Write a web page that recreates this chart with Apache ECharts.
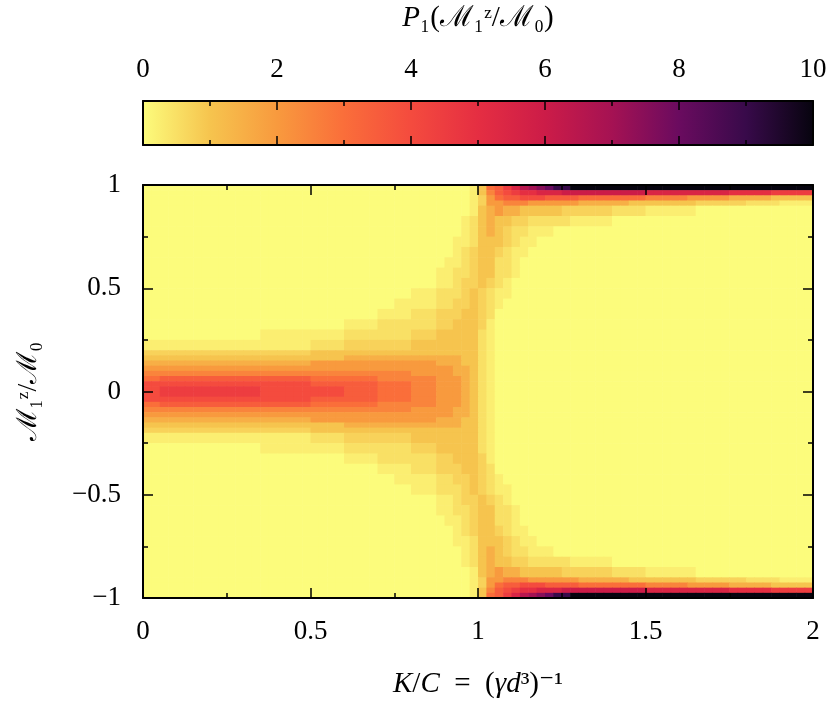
<!DOCTYPE html>
<html>
<head>
<meta charset="utf-8">
<script src="https://cdn.jsdelivr.net/npm/echarts@6/dist/echarts.min.js"></script>
<style>
html, body { margin: 0; padding: 0; background: #fff; }
#chart { width: 831px; height: 703px; }
</style>
</head>
<body>
<div id="chart"></div>
<script>
// colour palette of the colour bar, value 0 .. 10
var palette = ['#fcfc7c', '#f6c44e', '#f89a3e', '#fa6e3a', '#f44b3e', '#e52e42',
               '#cc1c48', '#a51253', '#6a0b5f', '#380a4a', '#07040f'];

// one letter per cell, looked up in levelValues
var levelCodes = 'abcdefghijklmnopqrstu';
var levelValues = [0, 0.25, 0.5, 0.75, 1, 1.5, 2, 2.5, 3, 3.5, 4, 4.5, 5, 5.5, 6, 6.5, 7, 7.5, 8, 9, 10];

// x bins of K/C: 80 columns of 0.025 (each group of 10 letters = 0.25)
var xFirst = 0;
var xBin = 0.025;

// row edges of M1z/M0, top to bottom
var yEdges = [1, 0.975, 0.95, 0.925, 0.9, 0.85, 0.8, 0.75, 0.7, 0.65, 0.6, 0.55, 0.5,
              0.45, 0.4, 0.35, 0.3, 0.25, 0.2, 0.175, 0.15, 0.125, 0.1, 0.075, 0.05, 0.025, 0,
              -0.025, -0.05, -0.075, -0.1, -0.125, -0.15, -0.175, -0.2, -0.25, -0.3, -0.35,
              -0.4, -0.45, -0.5, -0.55, -0.6, -0.65, -0.7, -0.75, -0.8, -0.85, -0.9,
              -0.925, -0.95, -0.975, -1];

// P1, one string per row (top to bottom)
var rows = [
  'aaaaaaaaaa aaaaaaaaaa aaaaaaaaaa aaaaaaaaab eijlnpqrst tuuuuuuuuu uuuuuuuuuu uuuuuuuuuu',
  'aaaaaaaaaa aaaaaaaaaa aaaaaaaaaa aaaaaaaaab ehjklmmnnn oooooooooo nnnnnnnnnn mmmmmlllll',
  'aaaaaaaaaa aaaaaaaaaa aaaaaaaaaa aaaaaaaaab dgijjkkkjj jjiiiiiiii hhhhhggggg fffffeeeee',
  'aaaaaaaaaa aaaaaaaaaa aaaaaaaaaa aaaaaaaaab dgghhhgggg ggffffffee eeeeeedddd ddccccbbbb',
  'aaaaaaaaaa aaaaaaaaaa aaaaaaaaaa aaaaaaaaab efgffeeeee ddddddcccc bbbbbbaaaa aaaaaaaaaa',
  'aaaaaaaaaa aaaaaaaaaa aaaaaaaaaa aaaaaaaabc efeeddcccc cbbbbbaaaa aaaaaaaaaa aaaaaaaaaa',
  'aaaaaaaaaa aaaaaaaaaa aaaaaaaaaa aaaaaaaabc efedccbbba aaaaaaaaaa aaaaaaaaaa aaaaaaaaaa',
  'aaaaaaaaaa aaaaaaaaaa aaaaaaaaaa aaaaaaabbc eeedcbbaaa aaaaaaaaaa aaaaaaaaaa aaaaaaaaaa',
  'aaaaaaaaaa aaaaaaaaaa aaaaaaaaaa aaaaaaabcd eedcbbaaaa aaaaaaaaaa aaaaaaaaaa aaaaaaaaaa',
  'aaaaaaaaaa aaaaaaaaaa aaaaaaaaaa aaaaaabbcd eeccbaaaaa aaaaaaaaaa aaaaaaaaaa aaaaaaaaaa',
  'aaaaaaaaaa aaaaaaaaaa aaaaaaaaaa aaaaabbccd eeccbaaaaa aaaaaaaaaa aaaaaaaaaa aaaaaaaaaa',
  'aaaaaaaaaa aaaaaaaaaa aaaaaaaaaa aaaaabbcdd edcbaaaaaa aaaaaaaaaa aaaaaaaaaa aaaaaaaaaa',
  'aaaaaaaaaa aaaaaaaaaa aaaaaaaaaa aabbbcccde dcbbaaaaaa aaaaaaaaaa aaaaaaaaaa aaaaaaaaaa',
  'aaaaaaaaaa aaaaaaaaaa aaaaaaaaaa bbbbbccdde dcbaaaaaaa aaaaaaaaaa aaaaaaaaaa aaaaaaaaaa',
  'aaaaaaaaaa aaaaaaaaaa aaaaaaaabb bbcccdddee dcaaaaaaaa aaaaaaaaaa aaaaaaaaaa aaaaaaaaaa',
  'aaaaaaaaaa aaaaaaaaaa aaaabbbbcc cccccddeee dbaaaaaaaa aaaaaaaaaa aaaaaaaaaa aaaaaaaaaa',
  'aaaaaaaaaa aaaabbbbbb bbbbcccccc ccdddeeeee cbaaaaaaaa aaaaaaaaaa aaaaaaaaaa aaaaaaaaaa',
  'bbbbbbbbbb bbbbbbbbbb ccccdddddd ddeeeeeeee cbaaaaaaaa aaaaaaaaaa aaaaaaaaaa aaaaaaaaaa',
  'dddddddddd dddddddddd eeeeeeeeee eeeeeeeeee cbaaaaaaaa aaaaaaaaaa aaaaaaaaaa aaaaaaaaaa',
  'eeeeeeeeee eeeeeeeeee eeeeffffff ffffffffee cbaaaaaaaa aaaaaaaaaa aaaaaaaaaa aaaaaaaaaa',
  'ffffffffff ffffffffff gggggggggg gggggfffee cbaaaaaaaa aaaaaaaaaa aaaaaaaaaa aaaaaaaaaa',
  'gggggggggg gggggggggg gggggggggg gggggggffe cbaaaaaaaa aaaaaaaaaa aaaaaaaaaa aaaaaaaaaa',
  'hhhhhhhhhh hhhhhhhhhh hhhhhhhhhh hhgggggffe cbaaaaaaaa aaaaaaaaaa aaaaaaaaaa aaaaaaaaaa',
  'iijjjjjjjj jjjjjjjjjj iiiiiiiihh hhhhhgggfe cbaaaaaaaa aaaaaaaaaa aaaaaaaaaa aaaaaaaaaa',
  'kkkkkkkkkk kkkkkkkkkk jjjjjjjjii iihhhgggfe cbaaaaaaaa aaaaaaaaaa aaaaaaaaaa aaaaaaaaaa',
  'kkllllllll llllkkkkkk kkkkjjjjii iihhhgggfe cbaaaaaaaa aaaaaaaaaa aaaaaaaaaa aaaaaaaaaa',
  // y < 0
  'kkllllllll llllkkkkkk kkkkjjjjii iihhhgggfe cbaaaaaaaa aaaaaaaaaa aaaaaaaaaa aaaaaaaaaa',
  'kkkkkkkkkk kkkkkkkkkk jjjjjjjjii iihhhgggfe cbaaaaaaaa aaaaaaaaaa aaaaaaaaaa aaaaaaaaaa',
  'iijjjjjjjj jjjjjjjjjj iiiiiiiihh hhhhhgggfe cbaaaaaaaa aaaaaaaaaa aaaaaaaaaa aaaaaaaaaa',
  'hhhhhhhhhh hhhhhhhhhh hhhhhhhhhh hhgggggffe cbaaaaaaaa aaaaaaaaaa aaaaaaaaaa aaaaaaaaaa',
  'gggggggggg gggggggggg gggggggggg gggggggffe cbaaaaaaaa aaaaaaaaaa aaaaaaaaaa aaaaaaaaaa',
  'ffffffffff ffffffffff gggggggggg gggggfffee cbaaaaaaaa aaaaaaaaaa aaaaaaaaaa aaaaaaaaaa',
  'eeeeeeeeee eeeeeeeeee eeeeffffff ffffffffee cbaaaaaaaa aaaaaaaaaa aaaaaaaaaa aaaaaaaaaa',
  'dddddddddd dddddddddd eeeeeeeeee eeeeeeeeee cbaaaaaaaa aaaaaaaaaa aaaaaaaaaa aaaaaaaaaa',
  'bbbbbbbbbb bbbbbbbbbb ccccdddddd ddeeeeeeee cbaaaaaaaa aaaaaaaaaa aaaaaaaaaa aaaaaaaaaa',
  'aaaaaaaaaa aaaabbbbbb bbbbcccccc ccdddeeeee cbaaaaaaaa aaaaaaaaaa aaaaaaaaaa aaaaaaaaaa',
  'aaaaaaaaaa aaaaaaaaaa aaaabbbbcc cccccddeee dbaaaaaaaa aaaaaaaaaa aaaaaaaaaa aaaaaaaaaa',
  'aaaaaaaaaa aaaaaaaaaa aaaaaaaabb bbcccdddee dcaaaaaaaa aaaaaaaaaa aaaaaaaaaa aaaaaaaaaa',
  'aaaaaaaaaa aaaaaaaaaa aaaaaaaaaa bbbbbccdde dcbaaaaaaa aaaaaaaaaa aaaaaaaaaa aaaaaaaaaa',
  'aaaaaaaaaa aaaaaaaaaa aaaaaaaaaa aabbbcccde dcbbaaaaaa aaaaaaaaaa aaaaaaaaaa aaaaaaaaaa',
  'aaaaaaaaaa aaaaaaaaaa aaaaaaaaaa aaaaabbcdd edcbaaaaaa aaaaaaaaaa aaaaaaaaaa aaaaaaaaaa',
  'aaaaaaaaaa aaaaaaaaaa aaaaaaaaaa aaaaabbccd eeccbaaaaa aaaaaaaaaa aaaaaaaaaa aaaaaaaaaa',
  'aaaaaaaaaa aaaaaaaaaa aaaaaaaaaa aaaaaabbcd eeccbaaaaa aaaaaaaaaa aaaaaaaaaa aaaaaaaaaa',
  'aaaaaaaaaa aaaaaaaaaa aaaaaaaaaa aaaaaaabcd eedcbbaaaa aaaaaaaaaa aaaaaaaaaa aaaaaaaaaa',
  'aaaaaaaaaa aaaaaaaaaa aaaaaaaaaa aaaaaaabbc eeedcbbaaa aaaaaaaaaa aaaaaaaaaa aaaaaaaaaa',
  'aaaaaaaaaa aaaaaaaaaa aaaaaaaaaa aaaaaaaabc efedccbbba aaaaaaaaaa aaaaaaaaaa aaaaaaaaaa',
  'aaaaaaaaaa aaaaaaaaaa aaaaaaaaaa aaaaaaaabc efeeddcccc cbbbbbaaaa aaaaaaaaaa aaaaaaaaaa',
  'aaaaaaaaaa aaaaaaaaaa aaaaaaaaaa aaaaaaaaab efgffeeeee ddddddcccc bbbbbbaaaa aaaaaaaaaa',
  'aaaaaaaaaa aaaaaaaaaa aaaaaaaaaa aaaaaaaaab dgghhhgggg ggffffffee eeeeeedddd ddccccbbbb',
  'aaaaaaaaaa aaaaaaaaaa aaaaaaaaaa aaaaaaaaab dgijjkkkjj jjiiiiiiii hhhhhggggg fffffeeeee',
  'aaaaaaaaaa aaaaaaaaaa aaaaaaaaaa aaaaaaaaab ehjklmmnnn oooooooooo nnnnnnnnnn mmmmmlllll',
  'aaaaaaaaaa aaaaaaaaaa aaaaaaaaaa aaaaaaaaab eijlnpqrst tuuuuuuuuu uuuuuuuuuu uuuuuuuuuu'
];

var xTicks = [0, 0.5, 1, 1.5, 2];
var yTicks = [-1, -0.5, 0, 0.5, 1];
var barTicks = [0, 2, 4, 6, 8, 10];

// cells [x0, x1, y0, y1, value]
var cells = [];
for (var r = 0; r < rows.length; r++) {
    var line = rows[r].replace(/ /g, '');
    for (var c = 0; c < line.length; c++) {
        var v = levelValues[levelCodes.indexOf(line.charAt(c))];
        cells.push([xFirst + c * xBin, xFirst + (c + 1) * xBin, yEdges[r + 1], yEdges[r], v]);
    }
}

var serif = "'Liberation Serif', 'DejaVu Serif', serif";
var black = '#000';

function minus(v) {
    return v < 0 ? '\u2212' + (-v) : String(v);
}

function frameAxis(o) {
    var a = {
        type: 'value',
        z: 10,
        axisLine: { show: true, onZero: false, lineStyle: { color: black, width: 2 } },
        axisTick: { show: true, inside: true, length: 10, lineStyle: { color: black, width: 1.5 } },
        minorTick: { show: true, splitNumber: 2, length: 5, lineStyle: { color: black, width: 1.5 } },
        splitLine: { show: false },
        minorSplitLine: { show: false },
        axisLabel: { show: false }
    };
    for (var k in o) a[k] = o[k];
    return a;
}

var labelStyle = { show: true, color: black, fontFamily: serif, fontSize: 27 };
function nameStyle(size) {
    return {
        color: black, fontFamily: serif, fontSize: size,
        rich: { i: { color: black, fontFamily: serif, fontSize: size, fontStyle: 'italic' } }
    };
}

var chart = echarts.init(document.getElementById('chart'));
chart.setOption({
    animation: false,
    backgroundColor: '#fff',
    grid: [
        { left: 143, top: 185, width: 670, height: 413, outerBoundsMode: 'none' },
        { left: 143, top: 101, width: 670, height: 44, outerBoundsMode: 'none' }
    ],
    xAxis: [
        frameAxis({
            gridIndex: 0, min: xTicks[0], max: xTicks[xTicks.length - 1], interval: 0.5, position: 'bottom',
            axisLabel: Object.assign({ margin: 20 }, labelStyle),
            name: '{i|K}/{i|C}\u2002=\u2002({i|\u03b3d}\u00b3)\u207b\u00b9',
            nameLocation: 'middle', nameGap: 72, nameTextStyle: nameStyle(29)
        }),
        frameAxis({ gridIndex: 0, min: 0, max: 2, interval: 0.5, position: 'top' }),
        frameAxis({
            gridIndex: 1, min: barTicks[0], max: barTicks[barTicks.length - 1], interval: 2, position: 'top',
            axisTick: { show: true, inside: true, length: 9, lineStyle: { color: black, width: 1.5 } },
            axisLabel: Object.assign({ margin: 18 }, labelStyle),
            name: '{i|P}\u2081(\u2133\u2081\u1dbb/\u2133\u2080)',
            nameLocation: 'middle', nameGap: 68, nameTextStyle: nameStyle(29)
        }),
        frameAxis({
            gridIndex: 1, min: 0, max: 10, interval: 2, position: 'bottom',
            axisTick: { show: true, inside: true, length: 9, lineStyle: { color: black, width: 1.5 } }
        })
    ],
    yAxis: [
        frameAxis({
            gridIndex: 0, min: yTicks[0], max: yTicks[yTicks.length - 1], interval: 0.5, position: 'left',
            axisLabel: Object.assign({ margin: 22, formatter: minus }, labelStyle),
            name: '\u2133\u2081\u1dbb/\u2133\u2080',
            nameLocation: 'middle', nameGap: 100, nameTextStyle: nameStyle(28)
        }),
        frameAxis({ gridIndex: 0, min: -1, max: 1, interval: 0.5, position: 'right' }),
        frameAxis({ gridIndex: 1, min: 0, max: 1, position: 'left', axisTick: { show: false }, minorTick: { show: false } }),
        frameAxis({ gridIndex: 1, min: 0, max: 1, position: 'right', axisTick: { show: false }, minorTick: { show: false } })
    ],
    visualMap: {
        type: 'continuous', show: false, seriesIndex: 0, dimension: 4,
        min: 0, max: 10, inRange: { color: palette }
    },
    series: [
        {
            type: 'custom',
            xAxisIndex: 0, yAxisIndex: 0,
            silent: true, z: 1,
            encode: { x: [0, 1], y: [2, 3] },
            data: cells,
            renderItem: function (params, api) {
                var p0 = api.coord([api.value(0), api.value(3)]);
                var p1 = api.coord([api.value(1), api.value(2)]);
                return {
                    type: 'rect',
                    shape: { x: p0[0], y: p0[1], width: p1[0] - p0[0] + 0.6, height: p1[1] - p0[1] + 0.6 },
                    style: { fill: api.visual('color') }
                };
            }
        },
        {
            type: 'custom',
            xAxisIndex: 2, yAxisIndex: 2,
            silent: true, z: 1,
            encode: { x: [0, 1] },
            data: [[barTicks[0], barTicks[barTicks.length - 1]]],
            renderItem: function (params, api) {
                var p0 = api.coord([api.value(0), 1]);
                var p1 = api.coord([api.value(1), 0]);
                var stops = palette.map(function (col, i) {
                    return { offset: i / (palette.length - 1), color: col };
                });
                return {
                    type: 'rect',
                    shape: { x: p0[0], y: p0[1], width: p1[0] - p0[0], height: p1[1] - p0[1] },
                    style: { fill: new echarts.graphic.LinearGradient(0, 0, 1, 0, stops) }
                };
            }
        }
    ]
});
</script>
</body>
</html>
